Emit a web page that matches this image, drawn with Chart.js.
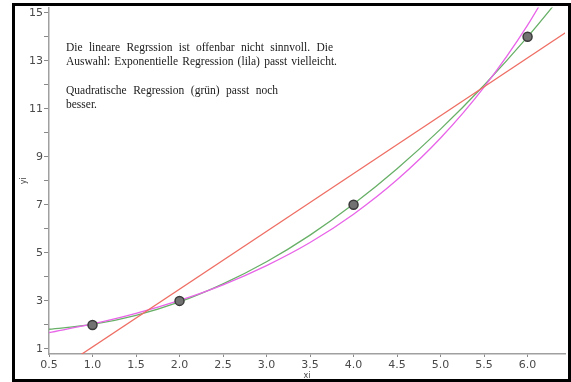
<!DOCTYPE html>
<html lang="de">
<head>
  <meta charset="UTF-8" />
  <title>Regression</title>
  <script src="https://cdn.jsdelivr.net/npm/chart.js"></script>
  <style>
    html, body {
      margin: 0;
      padding: 0;
      width: 571px;
      height: 382px;
      background: #fff;
      overflow: hidden;
    }
    .frame {
      position: absolute;
      left: 12px;
      top: 3px;
      width: 559px;
      height: 379px;
      border: 3px solid #000;
      box-sizing: border-box;
    }
    .chart-wrapper {
      position: absolute;
      left: 0;
      top: 0;
      width: 571px;
      height: 382px;
    }
    .note {
      position: absolute;
      left: 66px;
      font-family: "Liberation Serif", "Times New Roman", serif;
      font-size: 11.5px;
      color: #1a1a1a;
      white-space: nowrap;
      line-height: 14px;
    }
    .note.just {
      text-align: justify;
      text-align-last: justify;
    }
  </style>
</head>
<body>
  <div class="frame"></div>
  <div class="chart-wrapper">
    <canvas id="regChart" width="571" height="382"></canvas>
  </div>
  <div class="note just" style="top:40px;width:267px;">Die lineare Regrssion ist offenbar nicht sinnvoll. Die</div>
  <div class="note just" style="top:54px;width:271px;">Auswahl: Exponentielle Regression (lila) passt vielleicht.</div>
  <div class="note just" style="top:83px;width:212px;">Quadratische Regression (grün) passt noch</div>
  <div class="note" style="top:97px;">besser.</div>
  <script>
    // measured points
    const xi = [1, 2, 4, 6];
    const yi = [2, 3, 7, 14];

    // curves
    const curveX = [0.5, 1.0, 1.5, 2.0, 2.5, 3.0, 3.5, 4.0, 4.5, 5.0, 5.5, 6.0, 6.5];
    const quadY  = [1.82, 2.02, 2.40, 2.96, 3.71, 4.63, 5.74, 7.03, 8.50, 10.15, 11.98, 13.99, 16.19];
    const expY   = [1.68, 2.04, 2.48, 3.02, 3.67, 4.47, 5.43, 6.61, 8.04, 9.78, 11.90, 14.48, 17.62];
    const linX   = [0.5, 6.5];
    const linY   = [-0.12, 14.32];

    // axis ticks
    const xTicks = [0.5, 1.0, 1.5, 2.0, 2.5, 3.0, 3.5, 4.0, 4.5, 5.0, 5.5, 6.0];
    const yTicks = [1, 2, 3, 4, 5, 6, 7, 8, 9, 10, 11, 12, 13, 14, 15];
    const yLabeled = [1, 3, 5, 7, 9, 11, 13, 15];

    const pts = (xs, ys) => xs.map((x, i) => ({x: x, y: ys[i]}));

    const lineSet = (label, xs, ys, color) => ({
      label: label,
      data: pts(xs, ys),
      showLine: true,
      borderColor: color,
      borderWidth: 1.3,
      pointRadius: 0,
      cubicInterpolationMode: 'monotone',
      fill: false
    });

    const config = {
      type: 'scatter',
      data: {
        datasets: [
          {
            label: 'Messwerte',
            data: pts(xi, yi),
            pointRadius: 4.5,
            pointBackgroundColor: '#727272',
            pointBorderColor: '#3a3a3a',
            pointBorderWidth: 1.5,
            showLine: false
          },
          lineSet('linear', linX, linY, 'rgb(238,110,100)'),
          lineSet('exponentiell', curveX, expY, 'rgb(232,100,232)'),
          lineSet('quadratisch', curveX, quadY, 'rgb(104,176,104)')
        ]
      },
      options: {
        responsive: false,
        animation: false,
        layout: { padding: { left: 15, top: 6, right: 3, bottom: 1 } },
        plugins: { legend: { display: false }, tooltip: { enabled: false } },
        scales: {
          x: {
            type: 'linear',
            min: 0.5,
            max: 6.43,
            afterFit: s => { s.height = 27; },
            afterBuildTicks: s => { s.ticks = xTicks.map(v => ({value: v})); },
            border: { color: '#a0a0a0', width: 1.5 },
            grid: { drawOnChartArea: false, drawTicks: true, tickLength: 3, color: '#888' },
            ticks: {
              padding: 2,
              maxRotation: 0,
              color: '#4a4a4a',
              font: { family: 'DejaVu Sans', size: 11 },
              callback: v => v.toFixed(1)
            },
            title: {
              display: true,
              text: 'xi',
              color: '#444',
              font: { family: 'DejaVu Sans', size: 8 },
              padding: { top: 0, bottom: 0 }
            }
          },
          y: {
            type: 'linear',
            min: 0.79,
            max: 15.21,
            afterFit: s => { s.width = 34; },
            afterBuildTicks: s => { s.ticks = yTicks.map(v => ({value: v})); },
            border: { color: '#a0a0a0', width: 1.5 },
            grid: { drawOnChartArea: false, drawTicks: true, tickLength: 5, color: '#888' },
            ticks: {
              padding: 1,
              color: '#4a4a4a',
              font: { family: 'DejaVu Sans', size: 11 },
              callback: v => yLabeled.includes(v) ? String(v) : ''
            },
            title: {
              display: true,
              text: 'yi',
              color: '#444',
              font: { family: 'DejaVu Sans', size: 8 },
              padding: { top: 4, bottom: 0 }
            }
          }
        }
      }
    };
    new Chart(document.getElementById('regChart'), config);
  </script>
</body>
</html>
